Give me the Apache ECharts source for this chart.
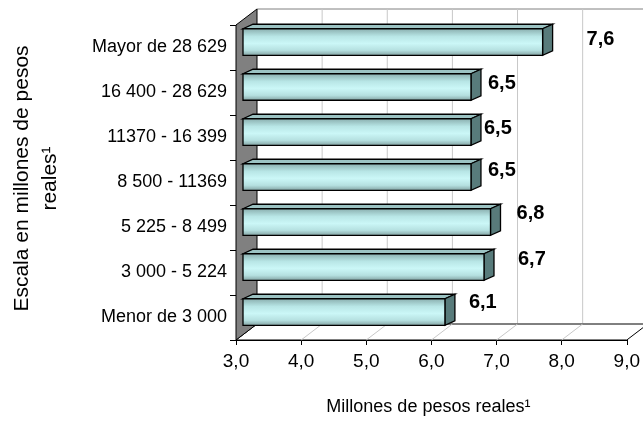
<!DOCTYPE html>
<html>
<head>
<meta charset="utf-8">
<script src="https://cdn.jsdelivr.net/npm/echarts@6/dist/echarts.min.js"></script>
<style>
html,body{margin:0;padding:0;background:#fff;}
#chart{width:643px;height:421px;}
</style>
</head>
<body>
<div id="chart"></div>
<script>
// ---- data ----
var categories = ['Mayor de 28 629', '16 400 - 28 629', '11370 - 16 399', '8 500 - 11369', '5 225 - 8 499', '3 000 - 5 224', 'Menor de 3 000'];
var values = [7.6, 6.5, 6.5, 6.5, 6.8, 6.7, 6.1];
var xMin = 3, xMax = 9, xStep = 1;
var xTitle = 'Millones de pesos reales\u00b9';
var yTitle = 'Escala en millones de pesos\nreales\u00b9';

// ---- style (label nudges, 3D projection) ----
var labelShiftX = [44, 17, 13, 17, 26, 34, 24];
var labelShiftY = [-3, -4, -4, -7, -9, -8, -10];
var DEPTH = [21, -16];      // wall depth projection
var BAR_FRONT = [7, -5.5];  // bar front face offset
var BAR_DEPTH = [10, -4.5]; // bar depth
var FONT = 'Liberation Sans, Arial, sans-serif';

function fmt(v){ return v.toFixed(1).replace('.', ','); }

var chart = echarts.init(document.getElementById('chart'), null, {renderer: 'canvas'});

function frameItem(params, api){
  var bw = api.size([0, 1])[1];
  var n = categories.length;
  var top = api.coord([xMin, 0])[1] - bw / 2;
  var bottom = api.coord([xMin, n - 1])[1] + bw / 2;
  var xL = api.coord([xMin, 0])[0];
  var xR = api.coord([xMax, 0])[0];
  var dx = DEPTH[0], dy = DEPTH[1];
  var children = [];
  children.push({type:'line', shape:{x1:xL+dx, y1:top+dy, x2:xR+dx+40, y2:top+dy}, style:{stroke:'#808080', lineWidth:1}});
  for (var v = xMin + xStep; v <= xMax + 1e-9; v += xStep){
    var x = api.coord([v, 0])[0];
    children.push({type:'line', shape:{x1:x+dx, y1:top+dy, x2:x+dx, y2:bottom+dy}, style:{stroke:'#c8c8c8', lineWidth:1}});
  }
  children.push({type:'polygon', shape:{points:[[xL,bottom],[xR,bottom],[xR+dx,bottom+dy],[xL+dx,bottom+dy]]}, style:{fill:'#ffffff', stroke:'#000', lineWidth:1}});
  for (var w = xMin + xStep; w < xMax - 1e-9; w += xStep){
    var xf = api.coord([w, 0])[0];
    children.push({type:'line', shape:{x1:xf, y1:bottom, x2:xf+dx, y2:bottom+dy}, style:{stroke:'#c8c8c8', lineWidth:1}});
  }
  children.push({type:'polygon', shape:{points:[[xL,top],[xL+dx,top+dy],[xL+dx,bottom+dy],[xL,bottom]]}, style:{fill:'#808080', stroke:'#000', lineWidth:1}});
  return {type:'group', children:children};
}

function barItem(params, api){
  var v = api.value(0), i = api.value(1);
  var p0 = api.coord([xMin, i]);
  var p1 = api.coord([v, i]);
  var bw = api.size([0, 1])[1];
  var h = bw * 0.59;
  var x0 = p0[0] + BAR_FRONT[0], x1 = p1[0] + BAR_FRONT[0];
  var yc = p0[1] + BAR_FRONT[1];
  var yt = yc - h / 2, yb = yc + h / 2;
  var tx = BAR_DEPTH[0], ty = BAR_DEPTH[1];
  var stroke = '#000';
  return {type:'group', children:[
    {type:'polygon', shape:{points:[[x0,yt],[x1,yt],[x1+tx,yt+ty],[x0+tx,yt+ty]]}, style:{fill:'#9cc3c3', stroke:stroke, lineWidth:1.3}},
    {type:'polygon', shape:{points:[[x1,yt],[x1+tx,yt+ty],[x1+tx,yb+ty],[x1,yb]]}, style:{fill:'#587b7b', stroke:stroke, lineWidth:1.3}},
    {type:'rect', shape:{x:x0, y:yt, width:x1-x0, height:h}, style:{
      fill: new echarts.graphic.LinearGradient(0,0,0,1,[
        {offset:0, color:'#86aaaa'},
        {offset:0.3, color:'#b8e6e6'},
        {offset:0.55, color:'#cbf7f7'},
        {offset:0.8, color:'#b5e0e0'},
        {offset:1, color:'#7e9d9d'}
      ]), stroke:stroke, lineWidth:1.3}},
    {type:'text', x:x1 + labelShiftX[i], y:yc + labelShiftY[i], style:{
      text: fmt(v), fill:'#000', font:'bold 20px ' + FONT, align:'left', verticalAlign:'middle'}}
  ]};
}

var option = {
  backgroundColor:'#ffffff',
  animation:false,
  grid:{left:236, right:16, top:25, bottom:81, containLabel:false},
  xAxis:{
    type:'value', min:xMin, max:xMax, interval:xStep,
    name:xTitle, nameLocation:'middle', nameGap:58,
    nameTextStyle:{fontFamily:FONT, fontSize:18, color:'#000', padding:[0,6,0,0]},
    axisLine:{show:true, lineStyle:{color:'#000', width:1}},
    axisTick:{show:true, length:5, lineStyle:{color:'#000'}},
    axisLabel:{formatter:function(v){return fmt(v);}, fontFamily:FONT, fontSize:19, color:'#000', margin:12},
    splitLine:{show:false}
  },
  yAxis:{
    type:'category', data:categories, inverse:true,
    name:yTitle, nameLocation:'middle', nameGap:172, nameRotate:90,
    nameTextStyle:{fontFamily:FONT, fontSize:21, color:'#000', lineHeight:28, padding:[0,0,0,8]},
    axisLine:{show:true, lineStyle:{color:'#000', width:1}},
    axisTick:{show:true, length:6, lineStyle:{color:'#000'}},
    axisLabel:{fontFamily:FONT, fontSize:18, color:'#000', margin:9},
    splitLine:{show:false}
  },
  series:[
    {type:'custom', name:'frame', renderItem:frameItem, data:[[xMin, 0]], encode:{x:0, y:1}, z:1, silent:true, clip:false},
    {type:'custom', name:'bars', renderItem:barItem, data:values.map(function(v, i){return [v, i];}), encode:{x:0, y:1}, z:3, clip:false}
  ]
};
chart.setOption(option);
</script>
</body>
</html>
